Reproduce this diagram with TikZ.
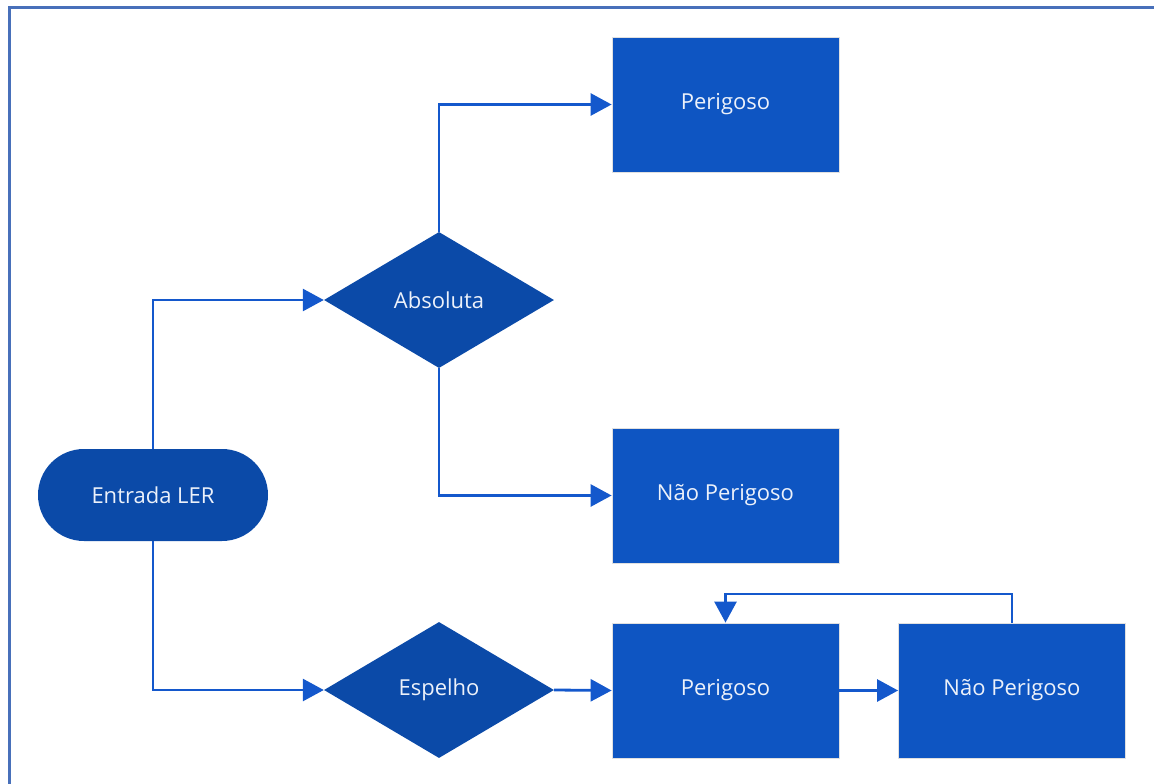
\documentclass[tikz,border=0pt]{standalone}
\usepackage{fontspec}
\setmainfont{Open Sans}
\usetikzlibrary{arrows.meta,shapes.geometric}
\definecolor{boxblue}{RGB}{14,85,194}
\definecolor{darkblue}{RGB}{11,74,168}
\definecolor{lineblue}{RGB}{20,88,204}
\definecolor{frameblue}{RGB}{72,112,186}
\definecolor{txt}{RGB}{236,241,250}
\tikzset{
  procbox/.style={rectangle, fill=boxblue, draw=black!12, line width=0.8pt, minimum width=227pt, minimum height=135pt, inner sep=0pt, text=txt, font=\fontsize{22}{26}\selectfont},
  decision/.style={diamond, fill=darkblue, minimum width=230pt, minimum height=136pt, inner sep=0pt, text=txt, font=\fontsize{22}{26}\selectfont},
  terminal/.style={rectangle, rounded corners=46pt, fill=darkblue, minimum width=230pt, minimum height=92pt, inner sep=0pt, text=txt, font=\fontsize{22}{26}\selectfont},
  conn/.style={draw=lineblue, line width=2.8pt, -{Triangle[length=21pt,width=22pt]}}
}
\begin{document}
\begin{tikzpicture}[x=1pt,y=-1pt]
\useasboundingbox (0,0) rectangle (1154,784);
\draw[frameblue, line width=3pt] (9,790) -- (9,8) -- (1160,8);
\node[procbox] (p1) at (725.5,104.5) {Perigoso};
\node[decision] (abs) at (439,300) {Absoluta};
\node[procbox] (np1) at (725.5,495.5) {Não Perigoso};
\node[terminal] (ent) at (153,495) {Entrada LER};
\node[decision] (esp) at (439,690) {Espelho};
\node[procbox] (p2) at (725.5,690.5) {Perigoso};
\node[procbox] (np2) at (1012,690.5) {Não Perigoso};
\coordinate (lp) at (1012,594);
\draw[conn] (ent.north) |- (abs.west);
\draw[conn] (ent.south) |- (esp.west);
\draw[conn] (abs.north) |- (p1.west);
\draw[conn] (abs.south) |- (np1.west);
\draw[conn] (esp.east) -- (p2.west);
\draw[conn] (p2.east) -- (np2.west);
\draw[conn] (np2.north) -- (lp) -| (p2.north);
\end{tikzpicture}
\end{document}
